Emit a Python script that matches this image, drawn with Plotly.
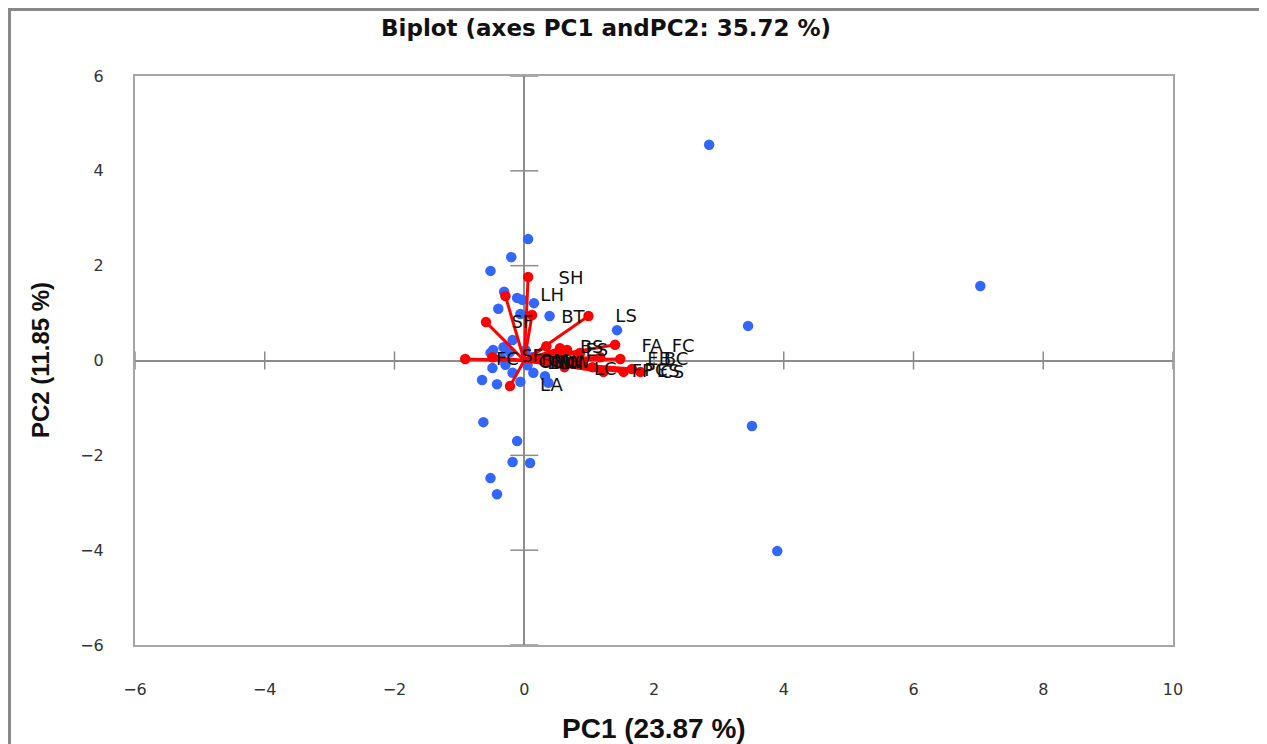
import plotly.graph_objects as go

# ---------------- data ----------------
# observations (PC1, PC2 scores)
obs_pc1 = [2.85, 0.06, -0.20, -0.52, 7.03, -0.31, -0.11, -0.03, 0.15, -0.40,
           -0.06, 0.39, 1.43, 3.45, -0.18, -0.32, -0.48, -0.22, 0.02, -0.52,
           0.12, -0.49, -0.29, -0.18, 0.14, 0.32, 0.37, -0.65, -0.42, -0.06,
           -0.63, -0.11, -0.18, 0.09, -0.52, -0.42, 3.51, 3.90, -0.35, 0.05]
obs_pc2 = [4.55, 2.56, 2.18, 1.89, 1.57, 1.45, 1.32, 1.28, 1.21, 1.09,
           0.98, 0.94, 0.64, 0.73, 0.43, 0.28, 0.22, 0.18, 0.22, 0.16,
           0.07, -0.16, -0.09, -0.26, -0.26, -0.33, -0.47, -0.41, -0.50, -0.45,
           -1.30, -1.70, -2.14, -2.16, -2.48, -2.82, -1.38, -4.02, 0.05, -0.10]

# variables (loadings, scaled)
var_pc1 = [0.06, -0.29, 0.99, 0.12, -0.59, 1.40, -0.91, -0.49, -0.22, 1.48,
           1.66, 1.22, 0.55, 0.66, 0.86, 1.17, 0.62, 1.05, 1.53, 1.79,
           0.40, 0.90, 0.34]
var_pc2 = [1.76, 1.36, 0.94, 0.96, 0.81, 0.33, 0.03, 0.07, -0.54, 0.03,
           -0.18, -0.24, 0.26, 0.22, 0.16, 0.07, -0.14, -0.14, -0.24, -0.24,
           0.05, -0.05, 0.30]

# variable labels and where they are written
lab_text = ["SH", "LH", "BT", "LS", "SF", "FC", "SF", "CG", "EL", "BW", "PH", "LW",
            "BM", "EW", "BS", "ES", "FA", "FC", "EB", "BC", "FP", "PC", "ES", "CS",
            "LC", "LA"]
lab_x = [0.72, 0.43, 0.75, 1.57, -0.03, -0.26, 0.12, 0.42, 0.52, 0.62, 0.72, 0.82,
         0.47, 0.68, 1.04, 1.12, 1.97, 2.45, 2.08, 2.34, 1.82, 2.03, 2.22, 2.28,
         1.25, 0.42]
lab_y = [1.70, 1.34, 0.88, 0.90, 0.79, -0.01, 0.07, -0.07, -0.09, -0.08, -0.09, -0.07,
         -0.05, -0.06, 0.25, 0.19, 0.28, 0.28, 0.01, 0.01, -0.26, -0.24, -0.26, -0.28,
         -0.22, -0.54]

x_ticks = [-6, -4, -2, 0, 2, 4, 6, 8, 10]
y_ticks = [-6, -4, -2, 0, 2, 4, 6]

title_text = "Biplot (axes PC1 andPC2: 35.72 %)"
x_title = "PC1 (23.87 %)"
y_title = "PC2 (11.85 %)"

# ---------------- figure ----------------
fig = go.Figure()

# tick marks on the zero axes
fig.add_trace(go.Scatter(
    x=[t for t in x_ticks if t != 0], y=[0] * (len(x_ticks) - 1), mode="markers",
    marker=dict(symbol="line-ns-open", size=13, color="#8c8c8c",
                line=dict(color="#8c8c8c", width=1.5)),
    hoverinfo="skip", showlegend=False))
fig.add_trace(go.Scatter(
    x=[0] * (len(y_ticks) - 1), y=[t for t in y_ticks if t != 0], mode="markers",
    marker=dict(symbol="line-ew-open", size=20, color="#8c8c8c",
                line=dict(color="#8c8c8c", width=1.5)),
    hoverinfo="skip", showlegend=False))

# observations
fig.add_trace(go.Scatter(
    x=obs_pc1, y=obs_pc2, mode="markers",
    marker=dict(color="#3366ff", size=10.5), showlegend=False))

# variable vectors
vx, vy = [], []
for a, b in zip(var_pc1, var_pc2):
    vx += [0, a, None]
    vy += [0, b, None]
fig.add_trace(go.Scatter(x=vx, y=vy, mode="lines",
                         line=dict(color="#ff0000", width=3),
                         hoverinfo="skip", showlegend=False))
fig.add_trace(go.Scatter(x=var_pc1, y=var_pc2, mode="markers",
                         marker=dict(color="#ff0000", size=10.5), showlegend=False))

# variable labels
fig.add_trace(go.Scatter(x=lab_x, y=lab_y, mode="text", text=lab_text,
                         textposition="middle center",
                         textfont=dict(family="DejaVu Sans", size=18, color="#111111"),
                         hoverinfo="skip", showlegend=False))

# page body adds an 8 px offset; lay the figure out in window pixels
OFF = 8
W, H = 1267 - OFF, 744 - OFF
L, R, T, B = 135 - OFF, 1267 - 1173, 76 - OFF, 744 - 645
pw, ph = W - L - R, H - T - B


def px2fx(px):
    return (px - OFF - L) / pw


def py2fy(py):
    return (H - B - (py - OFF)) / ph


fig.update_layout(
    width=W, height=H,
    margin=dict(l=L, r=R, t=T, b=B),
    paper_bgcolor="white", plot_bgcolor="white",
    xaxis=dict(range=[-6, 10], tickvals=x_ticks, showgrid=False,
               zeroline=True, zerolinecolor="#8c8c8c", zerolinewidth=1.5,
               showline=True, mirror=True, linecolor="#a6a6a6", linewidth=2,
               ticks="", ticklabelstandoff=29,
               tickfont=dict(family="DejaVu Sans", size=16, color="#333333")),
    yaxis=dict(range=[-6, 6], tickvals=y_ticks, showgrid=False,
               zeroline=True, zerolinecolor="#8c8c8c", zerolinewidth=1.5,
               showline=True, mirror=True, linecolor="#a6a6a6", linewidth=2,
               ticks="", ticklabelstandoff=26,
               tickfont=dict(family="DejaVu Sans", size=16, color="#333333")),
    shapes=[dict(type="rect", xref="paper", yref="paper",
                 x0=px2fx(9.5), x1=px2fx(1265.5), y0=py2fy(800), y1=py2fy(9.5),
                 line=dict(color="#888888", width=3), fillcolor="rgba(0,0,0,0)",
                 layer="below")],
    annotations=[
        dict(text=title_text, xref="paper", yref="paper",
             x=px2fx(606), y=py2fy(28), xanchor="center", yanchor="middle",
             showarrow=False,
             font=dict(family="DejaVu Sans", size=23, color="#111111", weight="bold")),
        dict(text=x_title, xref="paper", yref="paper",
             x=px2fx(654), y=py2fy(728), xanchor="center", yanchor="middle",
             showarrow=False,
             font=dict(family="Liberation Sans", size=28, color="#111111", weight="bold")),
        dict(text=y_title, xref="paper", yref="paper", textangle=-90,
             x=px2fx(40), y=py2fy(360), xanchor="center", yanchor="middle",
             showarrow=False,
             font=dict(family="Liberation Sans", size=24, color="#111111", weight="bold")),
    ],
)

fig.write_html("out.html")
